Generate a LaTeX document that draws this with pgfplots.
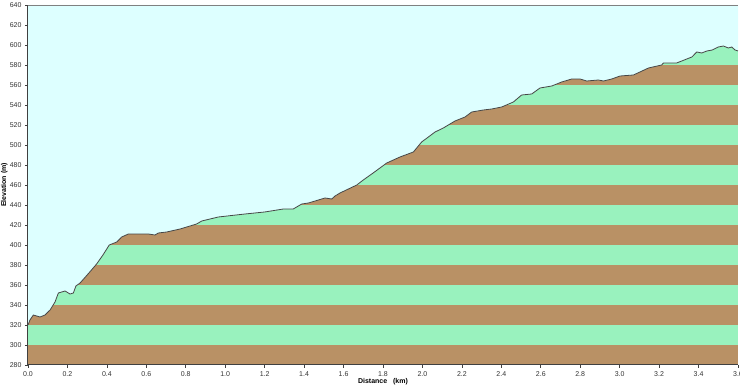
\documentclass[border=0pt]{standalone}
\usepackage{fontspec}
\setmainfont{Liberation Sans}
\usepackage{pgfplots}
\usepackage{pgfplotstable}
\pgfplotsset{compat=1.18}
\definecolor{sky}{RGB}{221,255,255}
\definecolor{bandgreen}{RGB}{153,242,190}
\definecolor{bandbrown}{RGB}{185,145,101}
\definecolor{profline}{RGB}{70,70,70}
\pgfplotstableread{
x y
0 320
0.01 325
0.027 330
0.061 328
0.086 330
0.112 335
0.137 343
0.154 352
0.188 354
0.213 351
0.23 352
0.243 359
0.264 362
0.30 370
0.348 381
0.38 390
0.412 400
0.45 403
0.475 408
0.509 411
0.56 411
0.61 411
0.644 410
0.661 412
0.703 413
0.771 416
0.855 421
0.881 424
0.965 428
1.10 431
1.20 433
1.295 436
1.345 436
1.388 441
1.422 442
1.506 447
1.54 446
1.557 449
1.582 452
1.667 460
1.70 465
1.75 472
1.819 482
1.886 488
1.954 493
1.996 503
2.064 513
2.106 517
2.165 524
2.216 528
2.25 533
2.309 535
2.351 536
2.402 538
2.461 543
2.503 550
2.554 551
2.596 557
2.656 559
2.706 563
2.757 566
2.799 566
2.833 564
2.892 565
2.918 564
2.96 566
3.002 569
3.07 570
3.146 577
3.213 580
3.222 582
3.289 582
3.366 588
3.391 593
3.416 592
3.442 594
3.47 595
3.50 598
3.526 599
3.551 597
3.568 598
3.585 595
3.60 594
}\profile
\begin{document}
\begin{tikzpicture}
\path[use as bounding box] (0,0) rectangle (740pt,390pt);
\begin{axis}[
  at={(28pt,25pt)}, anchor=south west,
  scale only axis, width=710pt, height=360pt,
  xmin=0, xmax=3.6, ymin=280, ymax=640,
  xtick={0,0.2,...,3.61}, ytick={280,300,...,640},
  xticklabel style={/pgf/number format/.cd, fixed, fixed zerofill, precision=1},
  yticklabel style={/pgf/number format/.cd, fixed, precision=0},
  /pgf/number format/assume math mode=true,
  /pgf/number format/1000 sep={},
  tick label style={font=\fontsize{7}{8}\selectfont, text=black!80},
  axis lines=left, axis line style={-, black!75, line width=1pt},
  tick align=outside, major tick length=3pt, tick style={black!75, line width=0.6pt},
  axis background/.style={fill=bandbrown},
  xlabel={\textbf{Distance\ \ \ (km)}}, ylabel={\textbf{Elevation (m)}},
  label style={font=\fontsize{7}{8}\selectfont},
  xlabel style={at={(axis description cs:0.5,0)}, anchor=north, yshift=-10pt},
  ylabel style={at={(axis description cs:0,0.5)}, anchor=south, yshift=17pt},
  clip=true, axis on top,
]
\addplot[fill=bandgreen, draw=none] coordinates {(0,300)(3.6,300)(3.6,320)(0,320)} -- cycle;
\addplot[fill=bandgreen, draw=none] coordinates {(0,340)(3.6,340)(3.6,360)(0,360)} -- cycle;
\addplot[fill=bandgreen, draw=none] coordinates {(0,380)(3.6,380)(3.6,400)(0,400)} -- cycle;
\addplot[fill=bandgreen, draw=none] coordinates {(0,420)(3.6,420)(3.6,440)(0,440)} -- cycle;
\addplot[fill=bandgreen, draw=none] coordinates {(0,460)(3.6,460)(3.6,480)(0,480)} -- cycle;
\addplot[fill=bandgreen, draw=none] coordinates {(0,500)(3.6,500)(3.6,520)(0,520)} -- cycle;
\addplot[fill=bandgreen, draw=none] coordinates {(0,540)(3.6,540)(3.6,560)(0,560)} -- cycle;
\addplot[fill=bandgreen, draw=none] coordinates {(0,580)(3.6,580)(3.6,600)(0,600)} -- cycle;
\addplot[fill=bandgreen, draw=none] coordinates {(0,620)(3.6,620)(3.6,640)(0,640)} -- cycle;
\addplot[fill=sky, draw=none] table {\profile} |- (axis cs:0,640) -- cycle;
\addplot[profline, line width=0.8pt] table {\profile};
\addplot[gray, line width=0.6pt] coordinates {(0,640)(3.6,640)};
\end{axis}
\end{tikzpicture}
\end{document}
